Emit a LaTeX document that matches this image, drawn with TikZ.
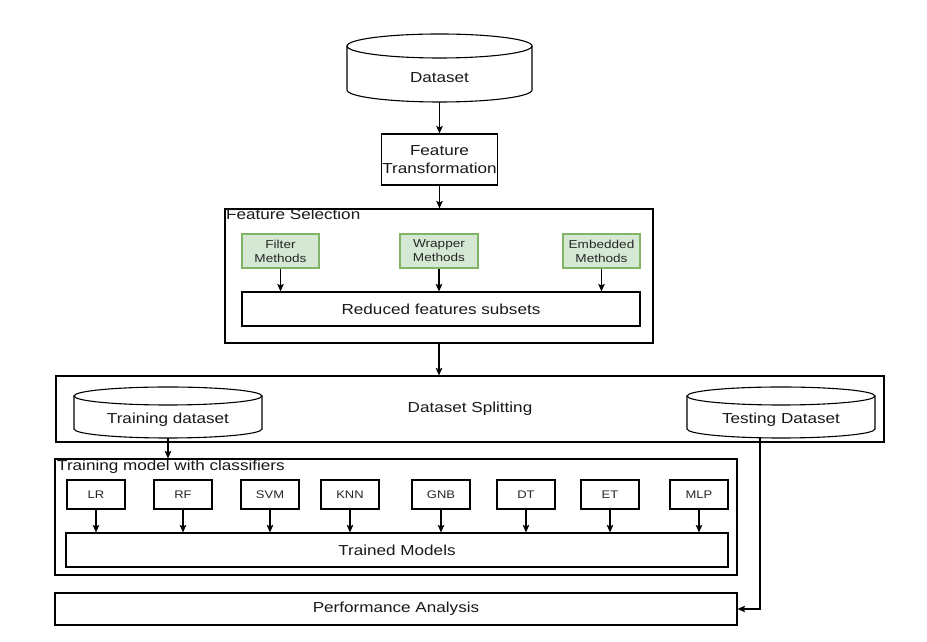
\documentclass[tikz,border=0pt]{standalone}
\usepackage{fontspec}
\setmainfont{Liberation Sans}[FakeStretch=1.18]
\usetikzlibrary{arrows.meta,calc}
\definecolor{gfill}{HTML}{D5E8D4}
\definecolor{gdraw}{HTML}{82B366}
\newcommand\mycyl[5]{%
  \pgfmathsetmacro\cyx{(#1+#2)/2}\pgfmathsetmacro\cyr{(#2-#1)/2}%
  \pgfmathsetmacro\cya{#3-#5}\pgfmathsetmacro\cyb{#4+#5}%
  \draw[ln] (#1,\cya) -- (#1,\cyb) arc[start angle=180,end angle=360,x radius=\cyr,y radius=#5] -- (#2,\cya);
  \draw[ln] (\cyx,\cya) ellipse[x radius=\cyr, y radius=#5];}
\tikzset{
  ln/.style={line width=1.1pt, draw=black},
  txt/.style={inner sep=0pt, font=\fontsize{14.5}{18}\selectfont, text=black!90},
  box/.style={txt, draw=black, line width=1.1pt, align=center},
  gbox/.style={draw=gdraw, fill=gfill, line width=1.1pt, inner sep=0pt, align=center,
    font=\fontsize{11.5}{14}\selectfont, text=black!85},
  cbox/.style={draw=black, line width=1.1pt, inner sep=0pt, minimum width=58pt, minimum height=29pt,
    font=\fontsize{11}{13}\selectfont, text=black!85},
  arr/.style={ln, -{Stealth[length=7.5pt,width=6.5pt,inset=1.5pt]}}
}
\begin{document}
\begin{tikzpicture}[x=1pt,y=1pt]
\fill[white] (0,0) rectangle (927,642);
\useasboundingbox (0,0) rectangle (927,642);
% Dataset
\mycyl{347}{532}{608}{540}{12}
\node[txt, minimum width=185pt, minimum height=48pt] (ds) at (439.5,564) {Dataset};
\node[box, minimum width=116pt, minimum height=51pt] (ft) at (439.5,482.5) {Feature\\Transformation};
\draw[arr] (ds.south) -- (ft.north);
% Feature selection
\node[box, minimum width=428pt, minimum height=134pt] (fs) at (439,366) {};
\node[txt, anchor=west] (fsl) at (226,428) {Feature Selection};
\draw[arr] (ft.south) -- (ft.south |- fs.north);
\node[box, minimum width=398pt, minimum height=34pt] (red) at (441,333) {Reduced features subsets};
\node[gbox, minimum width=77pt, minimum height=34pt] (fm) at (280.5,391) {Filter\\Methods};
\node[gbox, minimum width=78pt, minimum height=34pt] (wm) at (439,391) {Wrapper\\Methods};
\node[gbox, minimum width=77pt, minimum height=34pt] (em) at (601.5,391) {Embedded\\Methods};
\foreach \g in {fm,wm,em}{\draw[arr] (\g.south) -- (\g.south |- red.north);}
% Splitting
\node[box, minimum width=828pt, minimum height=66pt] (sp) at (470,233) {Dataset Splitting};
\draw[arr] (fs.south) -- (fs.south |- sp.north);
\mycyl{74}{262}{255}{204}{9}
\node[txt, minimum width=188pt, minimum height=36pt] (tr) at (168,222) {Training dataset};
\mycyl{687}{875}{255}{204}{9}
\node[txt, minimum width=188pt, minimum height=36pt] (te) at (781,222) {Testing Dataset};
% Training models
\node[box, minimum width=682pt, minimum height=116pt] (tm) at (396,125) {};
\node[txt, anchor=west] (tml) at (57,175) {Training model with classifiers};
\draw[arr] (tr.south) -- (tr.south |- tm.north);
\node[box, minimum width=662pt, minimum height=34pt] (tmod) at (397,92) {Trained Models};
\foreach \n/\x/\t in {lr/96/LR, rf/183/RF, svm/270/SVM, knn/350/KNN, gnb/441/GNB, dt/526/DT, et/610/ET, mlp/699/MLP}{
  \node[cbox] (\n) at (\x,147.5) {\t};
  \draw[arr] (\n.south) -- (\n.south |- tmod.north);
}
% Performance
\node[box, minimum width=682pt, minimum height=32pt] (pa) at (396,33) {Performance Analysis};
\coordinate (tl) at (760,204.2);
\draw[arr] (tl) |- (pa.east);
\end{tikzpicture}
\end{document}
